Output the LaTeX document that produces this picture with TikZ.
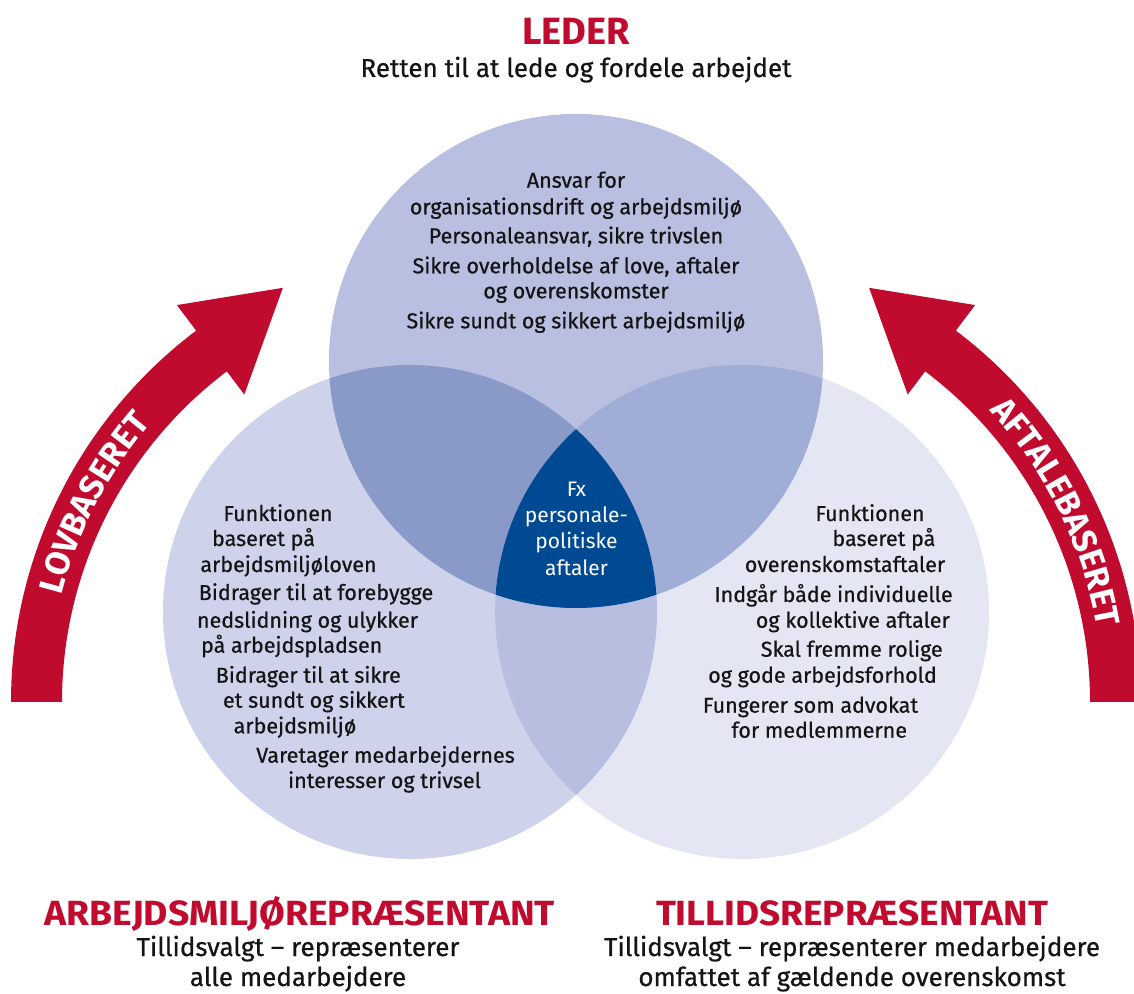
\documentclass[tikz,border=0pt]{standalone}
\usepackage{fontspec}
\usepackage{graphicx}
\setmainfont{Fira Sans}
\newfontfamily\medf{Fira Sans}[FakeBold=0.6]
\usetikzlibrary{decorations.text}
\definecolor{redA}{RGB}{192,10,46}
\definecolor{topC}{RGB}{184,191,224}
\definecolor{leftC}{RGB}{206,210,234}
\definecolor{rightC}{RGB}{228,230,244}
\definecolor{tlC}{RGB}{138,154,200}
\definecolor{trC}{RGB}{160,173,214}
\definecolor{lrC}{RGB}{184,190,224}
\definecolor{midC}{RGB}{0,74,148}
\definecolor{txtC}{RGB}{20,20,20}
\newcommand{\arrowfont}{\fontsize{34}{34}\selectfont\bfseries}
\begin{document}
\begin{tikzpicture}[x=1pt,y=1pt,
  body/.style={font=\fontsize{21.5}{24}\selectfont\medf, text=txtC, inner sep=0pt, anchor=base},
  mid/.style={font=\fontsize{21}{24}\selectfont, text=white, inner sep=0pt, anchor=base},
  title/.style={font=\fontsize{35}{36}\selectfont\bfseries, text=redA, inner sep=0pt, anchor=base},
  sub/.style={font=\fontsize{26}{28}\selectfont\medf, text=txtC, inner sep=0pt, anchor=base},
  arrowband/.style={fill=redA}
]
\useasboundingbox (0,0) rectangle (1134,993);
\clip (0,0) rectangle (1134,993);

% circles
\fill[leftC] (410,381) circle [radius=247];
\fill[rightC] (742,381) circle [radius=247];
\fill[topC] (576,632) circle [radius=247];
\begin{scope}
  \clip (576,632) circle [radius=247];
  \fill[tlC] (410,381) circle [radius=247];
\end{scope}
\begin{scope}
  \clip (576,632) circle [radius=247];
  \fill[trC] (742,381) circle [radius=247];
\end{scope}
\begin{scope}
  \clip (410,381) circle [radius=247];
  \fill[lrC] (742,381) circle [radius=247];
\end{scope}
\begin{scope}
  \clip (576,632) circle [radius=247];
  \clip (410,381) circle [radius=247];
  \fill[midC] (742,381) circle [radius=247];
\end{scope}

% left arrow
\begin{scope}[shift={(476,291)}]
  \fill[arrowband] (180:465) arc[start angle=180, end angle=127, radius=465]
     -- (127:497) -- (115:457) -- (127:385) -- (127:414)
     arc[start angle=127, end angle=180, radius=414] -- cycle;
  \path[decorate, decoration={text along path, text align=center, text color=white,
     text={|\arrowfont|LOVBASERET}}]
     (177:428) arc[start angle=177, end angle=128, radius=428];
\end{scope}
% right arrow
\begin{scope}[shift={(676,291)}]
  \fill[arrowband] (0:465) arc[start angle=0, end angle=53, radius=465]
     -- (53:497) -- (65:457) -- (53:385) -- (53:414)
     arc[start angle=53, end angle=0, radius=414] -- cycle;
  \path[decorate, decoration={text along path, text align=center, text color=white,
     text={|\arrowfont|AFTALEBASERET}}]
     (52:428) arc[start angle=52, end angle=1, radius=428];
\end{scope}

% top titles
\node[title, font=\fontsize{38}{40}\selectfont\bfseries] (leder) at (576,948) {LEDER};
\node[sub] (ledersub) at (576,916) {Retten til at lede og fordele arbejdet};

% top circle text
\node[body] (t1) at (576,805.3) {Ansvar for};
\node[body] (t2) at (576,778.7) {organisationsdrift og arbejdsmiljø};
\node[body] (t3) at (576,749.7) {Personaleansvar, sikre trivslen};
\node[body] (t4) at (576,719.7) {Sikre overholdelse af love, aftaler};
\node[body] (t5) at (576,694.7) {og overenskomster};
\node[body] (t6) at (576,664.7) {Sikre sundt og sikkert arbejdsmiljø};

% left circle text
\node[body] (l1) at (278,472) {Funktionen};
\node[body] (l2) at (263.5,447) {baseret på};
\node[body] (l3) at (288.5,421) {arbejdsmiljøloven};
\node[body] (l4) at (316,393) {Bidrager til at forebygge};
\node[body] (l5) at (307.5,365.3) {nedslidning og ulykker};
\node[body] (l6) at (291.7,340.3) {på arbejdspladsen};
\node[body] (l7) at (308.3,310.3) {Bidrager til at sikre};
\node[body] (l8) at (313.9,285.3) {et sundt og sikkert};
\node[body] (l9) at (295,259.7) {arbejdsmiljø};
\node[body] (l10) at (385.5,230.3) {Varetager medarbejdernes};
\node[body] (l11) at (384.5,205) {interesser og trivsel};

% right circle text
\node[body] (r1) at (870,472) {Funktionen};
\node[body] (r2) at (883.9,447) {baseret på};
\node[body] (r3) at (845,421) {overenskomstaftaler};
\node[body] (r4) at (833.5,391) {Indgår både individuelle};
\node[body] (r5) at (852.8,365.3) {og kollektive aftaler};
\node[body] (r6) at (851.7,336.3) {Skal fremme rolige};
\node[body] (r7) at (822.5,310.3) {og gode arbejdsforhold};
\node[body] (r8) at (810.5,280.3) {Fungerer som advokat};
\node[body] (r9) at (819.2,255.3) {for medlemmerne};

% centre text
\node[mid] (c1) at (576.5,496) {Fx};
\node[mid] (c2) at (576.5,470) {personale-};
\node[mid] (c3) at (576.5,444) {politiske};
\node[mid] (c4) at (576.5,417) {aftaler};

% bottom titles
\node[title] (amr) at (300,68) {\scalebox{1.065}[1]{ARBEJDSMILJØREPRÆSENTANT}};
\node[sub] (amrsub1) at (298,37) {Tillidsvalgt – repræsenterer};
\node[sub] (amrsub2) at (298,7) {alle medarbejdere};
\node[title] (tr) at (852,68) {\scalebox{1.055}[1]{TILLIDSREPRÆSENTANT}};
\node[sub] (trsub1) at (852,37) {Tillidsvalgt – repræsenterer medarbejdere};
\node[sub] (trsub2) at (852,7) {omfattet af gældende overenskomst};
\end{tikzpicture}
\end{document}
